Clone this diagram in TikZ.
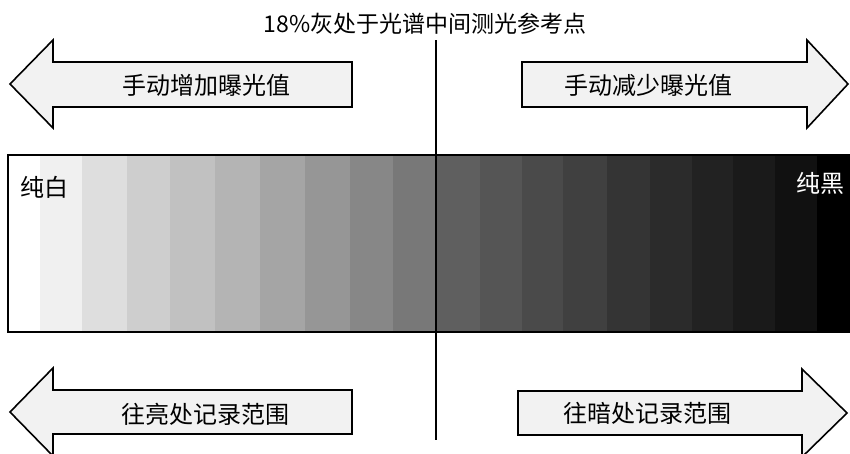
\documentclass[tikz,border=0pt]{standalone}
\usepackage{fontspec}
\setmainfont{Noto Sans CJK SC}
\definecolor{arrowfill}{RGB}{242,242,242}
\tikzset{
	bigarrow/.style={draw=black, line width=1.6pt, fill=arrowfill, line join=miter},
	lbl/.style={font=\fontsize{24}{28}\selectfont, inner sep=0pt},
}
\begin{document}
\begin{tikzpicture}[x=1pt, y=-1pt]
	\useasboundingbox (0,0) rectangle (850,453);

	% grey strip
	\foreach \g/\a/\b in {255/8/40, 240/40/82, 222/82/127, 206/127/170, 193/170/215, 180/215/260, 165/260/305,
		150/305/350, 135/350/393, 120/393/437, 95/437/480, 85/480/522, 74/522/563, 64/563/607, 52/607/650,
		43/650/692, 34/692/733, 26/733/775, 17/775/817, 0/817/849} {
		\definecolor{stripe}{RGB}{\g,\g,\g}
		\fill[stripe] (\a,155) rectangle (\b,332);
	}
	\draw[line width=1.6pt] (8,155) rectangle (849,332);
	\node[lbl] (white) at (44,187) {纯白};
	\node[lbl, text=white] (black) at (820,183) {纯黑};

	% arrows
	\draw[bigarrow] (10,84) -- (53,40) -- (53,62) -- (352,62) -- (352,107) -- (53,107) -- (53,128) -- cycle;
	\draw[bigarrow] (848,84) -- (807,40) -- (807,62) -- (522,62) -- (522,107) -- (807,107) -- (807,128) -- cycle;
	\draw[bigarrow] (10,412) -- (53,368) -- (53,390) -- (352,390) -- (352,434) -- (53,434) -- (53,456) -- cycle;
	\draw[bigarrow] (847,413) -- (802,369) -- (802,391) -- (518,391) -- (518,435) -- (802,435) -- (802,457) -- cycle;
	\node[lbl] (more) at (206,85) {手动增加曝光值};
	\node[lbl] (less) at (648,85) {手动减少曝光值};
	\node[lbl] (bright) at (205,414) {往亮处记录范围};
	\node[lbl] (dark) at (647,413) {往暗处记录范围};

	% middle grey
	\node[lbl, font=\fontsize{23}{27}\selectfont] (title) at (425,24) {18\%灰处于光谱中间测光参考点};
	\coordinate (mtop) at (436,40);
	\coordinate (mbot) at (436,440);
	\draw[line width=2.4pt] (mtop) -- (mbot);
\end{tikzpicture}
\end{document}
